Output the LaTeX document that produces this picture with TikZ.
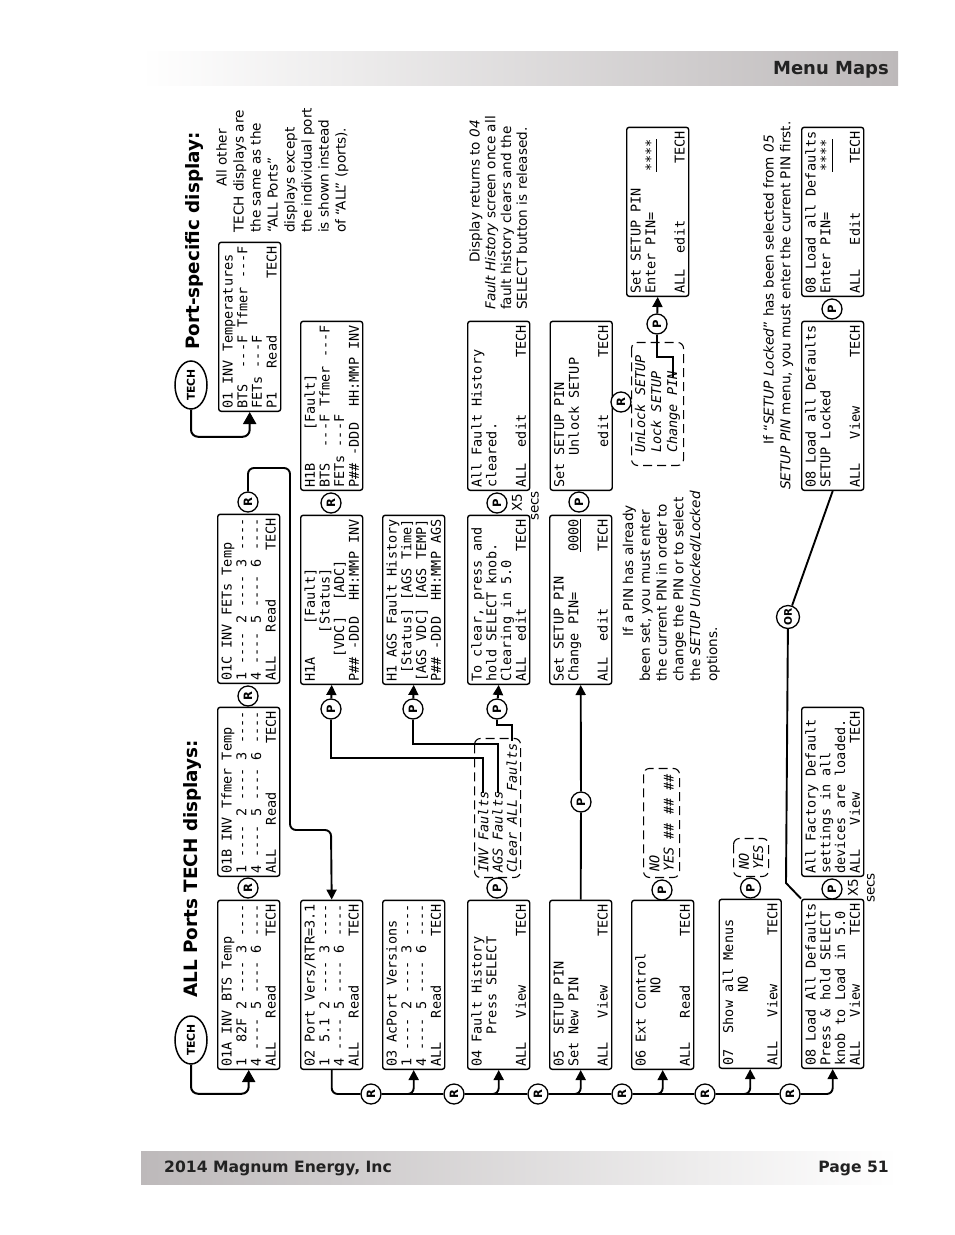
\documentclass[tikz,border=0pt]{standalone}
\usepackage{fontspec}
\setmainfont{DejaVu Sans}
\setmonofont{DejaVu Sans Mono}
\usetikzlibrary{arrows.meta,shapes.geometric}
\definecolor{bandDark}{HTML}{BDB9BA}
\definecolor{bandMid}{HTML}{DEDADB}
\definecolor{inkDark}{HTML}{222222}
\tikzset{
  screen/.style={draw,rounded corners=2.5pt,line width=1.4pt,rotate=90,anchor=north west,
    inner xsep=2.5pt,inner ysep=0pt,text width=164pt,minimum height=62pt,align=flush left,
    font=\ttfamily\fontsize{13.5}{14.7}\selectfont},
  choice/.style={draw,dashed,dash pattern=on 9pt off 5pt,rounded corners=6pt,line width=1.1pt,rotate=90,anchor=north west,
    inner xsep=3pt,inner ysep=2pt,align=flush left,
    font=\ttfamily\itshape\fontsize{13.5}{14.2}\selectfont},
  btn/.style={draw,circle,fill=white,line width=1.3pt,rotate=90,inner sep=0pt,minimum size=20pt,
    font=\rmfamily\bfseries\fontsize{11.5}{12}\selectfont},
  techbtn/.style={draw,ellipse,fill=white,line width=1.5pt,rotate=90,inner sep=0pt,minimum width=48pt,minimum height=32pt,
    font=\rmfamily\bfseries\fontsize{10.8}{11}\selectfont},
  note/.style={rotate=90,anchor=north west,inner sep=0pt,align=flush left,font=\rmfamily\fontsize{13.6}{16.8}\selectfont},
  heading/.style={rotate=90,anchor=west,inner sep=0pt,font=\rmfamily\bfseries\fontsize{18.4}{20}\selectfont},
  bandtext/.style={inner sep=0pt,text=inkDark,font=\rmfamily\bfseries\fontsize{15.6}{17}\selectfont},
  small/.style={rotate=90,inner sep=0pt,font=\rmfamily\fontsize{13.5}{15}\selectfont},
  conn/.style={line width=1.9pt},
  thickconn/.style={line width=2.5pt},
  arr/.style={line width=1.9pt,rounded corners=6pt,-{Triangle[width=10pt,length=10pt]}},
  bigarr/.style={line width=2pt,rounded corners=7pt,-{Triangle[width=13pt,length=12pt]}}
}
\newcommand{\Ul}[1]{\underline{#1}}
\begin{document}
\begin{tikzpicture}[x=1pt,y=-1pt]
\useasboundingbox (0,0) rectangle (954,1235);
% bands
\fill[left color=white,middle color=bandMid!85!white,right color=bandDark] (141,51) rectangle (898,85);
\fill[left color=bandDark,middle color=bandMid!85!white,right color=white] (141,1151) rectangle (898,1184);
\node[bandtext,anchor=east,font=\rmfamily\bfseries\fontsize{18}{20}\selectfont] (menumaps) at (889,70) {Menu Maps};
\node[bandtext,anchor=west] (company) at (164,1168.5) {2014 Magnum Energy, Inc};
\node[bandtext,anchor=east] (pagenum) at (889,1168.5) {Page 51};
% headings
\node[heading] (h1) at (192,998) {ALL Ports TECH displays:};
\node[heading] (h2) at (194,350) {Port-specific display:};
% TECH buttons
\node[techbtn] (tech1) at (191,1040) {TECH};
\node[techbtn] (tech2) at (191,385) {TECH};
% screens column 1
\node[screen] (a1) at (217,1070) {01A INV BTS Temp\\1~~82F 2 ---- 3 ----\\4 ---- 5 ---- 6 ----\\ALL~~~Read~~~~~~TECH};
\node[screen] (b02) at (300,1070) {02 Port Vers/RTR=3.1\\1~~5.1 2 ---- 3 ----\\4 ---- 5 ---- 6 ----\\ALL~~~Read~~~~~~TECH};
\node[screen] (b03) at (382,1070) {03 AcPort Versions\\1 ---- 2 ---- 3 ----\\4 ---- 5 ---- 6 ----\\ALL~~~Read~~~~~~TECH};
\node[screen] (b04) at (467,1070) {04 Fault History\\~~~~Press SELECT\\~\\ALL~~~View~~~~~~TECH};
\node[screen] (b05) at (549,1070) {05~~SETUP PIN\\Set New PIN\\~\\ALL~~~View~~~~~~TECH};
\node[screen] (b06) at (631,1070) {06 Ext Control\\~~~~~~~~~NO\\~\\ALL~~~Read~~~~~~TECH};
\node[screen] (b07) at (718.5,1069) {07~~Show all Menus\\~~~~~~~~~NO\\~\\ALL~~~View~~~~~~TECH};
\node[screen] (b08) at (801,1069) {08 Load All Defaults\\Press \& hold SELECT\\knob to Load in 5.0\\ALL~~~View~~~~~~TECH};
% screens column 2
\node[screen] (a2) at (217,877) {01B INV Tfmer Temp\\1 ---- 2 ---- 3 ----\\4 ---- 5 ---- 6 ----\\ALL~~~Read~~~~~~TECH};
\node[screen] (a3) at (217,684) {01C INV FETs Temp\\1 ---- 2 ---- 3 ----\\4 ---- 5 ---- 6 ----\\ALL~~~Read~~~~~~TECH};
\node[screen] (h1a) at (300,685) {H1A~~~~{[}Fault]\\~~~~~~{[}Status]\\~~~{[}VDC]~~{[}ADC]\\P\#\# -DDD~~HH:MMP INV};
\node[screen] (h1ags) at (382,685) {H1 AGS Fault History\\~{[}Status] {[}AGS Time]\\{[}AGS VDC] {[}AGS TEMP]\\P\#\# -DDD~~HH:MMP AGS};
\node[screen] (clearing) at (467,685) {To clear, press and\\hold SELECT knob.\\Clearing in 5.0\\ALL~~edit~~~~~~~TECH};
\node[screen] (setchange) at (549,685) {Set SETUP PIN\\Change PIN=~~~~~\Ul{0000}\\~\\ALL~~edit~~~~~~~TECH};
\node[screen] (factory) at (801,877) {All Factory Default\\settings in all\\devices are loaded.\\ALL~~~View~~~~~~TECH};
% screens column 3
\node[screen] (port1) at (218,412) {01 INV Temperatures\\BTS~~---F Tfmer ---F\\FETs ---F\\P1~~~Read~~~~~~~TECH};
\node[screen] (h1b) at (300,491) {H1B~~~~{[}Fault]\\BTS~~---F Tfmer ---F\\FETs ---F\\P\#\# -DDD~~HH:MMP INV};
\node[screen] (cleared) at (467,491) {All Fault History\\cleared.\\~\\ALL~~edit~~~~~~~TECH};
\node[screen] (unlock) at (549.5,491) {Set SETUP PIN\\~~~~Unlock SETUP\\~\\~~~~~edit~~~~~~~TECH};
\node[screen] (locked) at (801,491) {08 Load all Defaults\\SETUP Locked\\~\\ALL~~~View~~~~~~TECH};
% screens column 4
\node[screen] (enterpin) at (626,297) {Set SETUP PIN\\Enter PIN=~~~~~\Ul{****}\\~\\ALL~~edit~~~~~~~TECH};
\node[screen] (enterdef) at (801,297) {08 Load all Defaults\\Enter PIN=~~~~~\Ul{****}\\~\\ALL~~~Edit~~~~~~TECH};
% option boxes
\node[choice,minimum width=139pt,minimum height=46pt] (optfault) at (474,878) {INV Faults\\AGS Faults\\CLear ALL Faults};
\node[choice,minimum width=109pt,minimum height=36pt,inner ysep=4pt] (optext) at (643,878) {NO\\YES \#\# \#\# \#\#};
\node[choice,minimum width=38pt,minimum height=35pt,inner ysep=4pt] (optmenu) at (733,877) {NO\\YES};
\node[choice,minimum width=123pt,minimum height=52pt,font=\ttfamily\itshape\fontsize{13.5}{16}\selectfont] (optpin) at (631,466) {UnLock SETUP\\Lock SETUP\\Change PIN};
% line ends inside option boxes
\coordinate (invend) at (483,793);
\coordinate (agsend) at (498,793);
\coordinate (clrend) at (512,741);
\coordinate (pinend) at (673,377);
% R buttons
\node[btn] (ra1) at (248,888) {R};
\node[btn] (ra2) at (248,696) {R};
\node[btn] (ra3) at (248,502) {R};
\node[btn] (rh1) at (331,503) {R};
\node[btn] (rpin) at (621,402) {R};
\node[btn] (r1) at (371,1094) {R};
\node[btn] (r2) at (454,1094) {R};
\node[btn] (r3) at (538,1094) {R};
\node[btn] (r4) at (622,1094) {R};
\node[btn] (r5) at (705,1094) {R};
\node[btn] (r6) at (790,1094) {R};
% P buttons
\node[btn] (pa) at (331,709) {P};
\node[btn] (pb) at (413,709) {P};
\node[btn] (pc) at (497,709) {P};
\node[btn] (pf) at (497,888) {P};
\node[btn] (pclr) at (497,503) {P};
\node[btn] (p05) at (581,802) {P};
\node[btn] (pset) at (579,502) {P};
\node[btn] (penter) at (657,324) {P};
\node[btn] (p06) at (662,890) {P};
\node[btn] (p07) at (750.5,888) {P};
\node[btn] (p08) at (832,889) {P};
\node[btn] (plock) at (832,309) {P};
\node[btn,minimum size=23pt,font=\rmfamily\bfseries\fontsize{10.5}{11}\selectfont] (or) at (788,617) {OR};
% small texts
\node[small] (x5a) at (517,503) {X5};
\node[small] (secsa) at (535,506) {secs};
\node[small] (x5b) at (853,888) {X5};
\node[small] (secsb) at (871,888) {secs};
% notes
\node[note,font=\rmfamily\fontsize{13.6}{17}\selectfont] (note1) at (216,233) {\hspace*{46pt}All other\\TECH displays are\\the same as the\\“ALL Ports”\\displays except\\the individual port\\is shown instead\\of “ALL” (ports).};
\node[note,font=\rmfamily\fontsize{13.6}{15.8}\selectfont] (note2) at (469,310) {\hspace*{47pt}Display returns to \textit{04}\\\textit{Fault History} screen once all\\fault history clears and the\\SELECT button is released.};
\node[note] (note3) at (622.5,682) {\hspace*{45pt}If a PIN has already\\been set, you must enter\\the current PIN in order to\\change the PIN or to select\\the \textit{SETUP Unlocked/Locked}\\options.};
\node[note] (note4) at (763,490) {\hspace*{45pt}If “\textit{SETUP Locked}” has been selected from \textit{05}\\\textit{SETUP PIN} menu, you must enter the current PIN first.};
% connectors
\draw[bigarr] (tech1.west) -- ++(0,29) -| (a1.west);
\draw[bigarr] (tech2.west) -- ++(0,27) -| (port1.west);
\draw[conn,rounded corners=6pt] (b02.west) |- (r1);
\draw[arr] (r1) -| (b03.west);
\draw[conn] (r1) -- (r2);
\draw[arr] (r2) -| (b04.west);
\draw[conn] (r2) -- (r3);
\draw[arr] (r3) -| (b05.west);
\draw[conn] (r3) -- (r4);
\draw[arr] (r4) -| (b06.west);
\draw[conn] (r4) -- (r5);
\draw[arr] (r5) -| (b07.west);
\draw[conn] (r5) -- (r6);
\draw[arr] (r6) -| (b08.west);
\draw[arr] (ra3) -- (248,468) -- (290,468) -- (290,830) -- (331,830) -- (b02.east);
\draw[arr] (pa) -- (h1a.west);
\draw[arr] (pb) -- (h1ags.west);
\draw[arr] (pc) -- (clearing.west);
\draw[thickconn] (pa) -- (331,758) -- (483,758) -- (invend);
\draw[conn] (pb) -- (413,744) -- (498,744) -- (agsend);
\draw[thickconn] (pc) -- (497,725) -- (512,725) -- (clrend);
\draw[conn] (b05.east) -- (p05);
\draw[arr] (p05) -- (setchange.west);
\draw[arr] (penter) -- (enterpin.west);
\draw[thickconn] (penter) -- (657,357) -- (673,357) -- (pinend);
\draw[conn] (b08.north east) -- (786,883) -- (or);
\draw[conn] (or) -- (locked.west);
\end{tikzpicture}
\end{document}
